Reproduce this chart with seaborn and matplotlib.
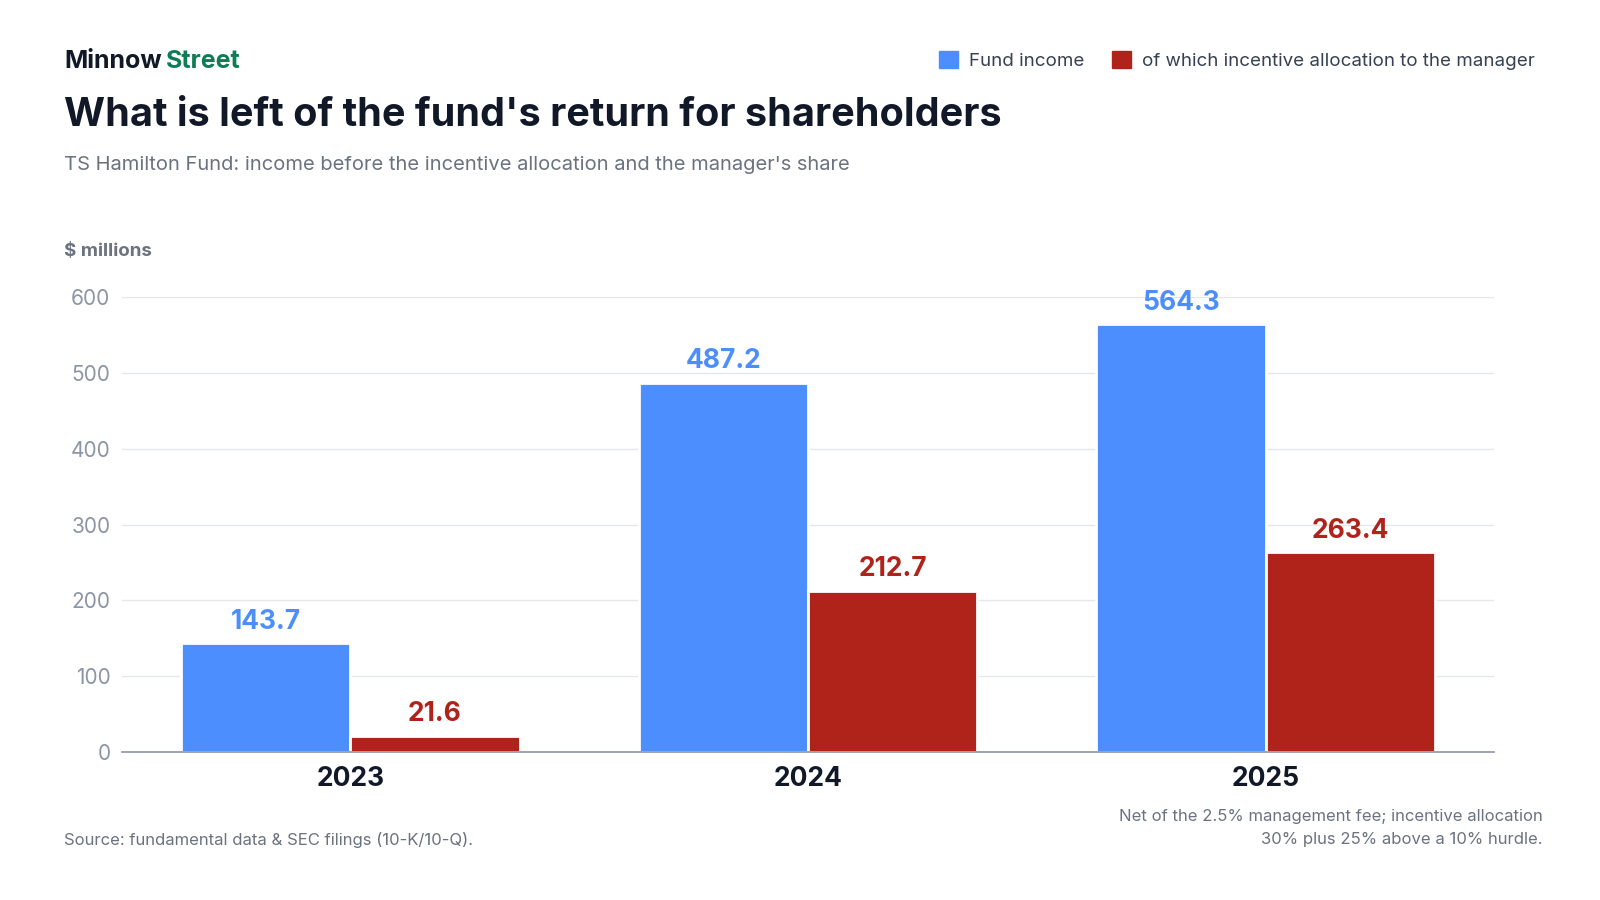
import matplotlib.pyplot as plt
import matplotlib.patches as mpatches
import seaborn as sns
import pandas as pd

years = ["2023", "2024", "2025"]
fund_income = [143.7, 487.2, 564.3]
incentive = [21.6, 212.7, 263.4]
series_names = ["Fund income", "of which incentive allocation to the manager"]

blue = "#4D8EFF"
red = "#B0231A"
dark = "#111827"
grey = "#6B7280"

df = pd.DataFrame({
    "year": years * 2,
    "value": fund_income + incentive,
    "series": [series_names[0]] * 3 + [series_names[1]] * 3,
})

sns.set_style("white")
plt.rcParams["font.family"] = ["Inter", "DejaVu Sans"]

fig = plt.figure(figsize=(16, 9), dpi=100)
ax = fig.add_axes([0.076, 0.1644, 0.858, 0.5056])

sns.barplot(data=df, x="year", y="value", hue="series", palette=[blue, red],
            saturation=1, width=0.74, edgecolor="white", linewidth=2, ax=ax, legend=False)

for cont, col in zip(ax.containers, [blue, red]):
    ax.bar_label(cont, labels=[f"{v:.1f}" for v in cont.datavalues], padding=6,
                 color=col, fontsize=19, fontweight="bold")

ax.set_ylim(0, 600)
ax.set_yticks(range(0, 601, 100))
ax.yaxis.grid(True, color="#E5E7EB", linewidth=1)
ax.set_axisbelow(True)
for s in ["top", "right", "left"]:
    ax.spines[s].set_visible(False)
ax.spines["bottom"].set_color("#8C95A6")
ax.spines["bottom"].set_linewidth(1.2)
ax.tick_params(axis="y", length=0, labelsize=15, labelcolor="#8C95A6", pad=8)
ax.tick_params(axis="x", length=0, labelsize=19, labelcolor=dark, pad=10)
for t in ax.get_xticklabels():
    t.set_fontweight("bold")
ax.set_xlabel("")
ax.set_ylabel("")

fig.text(0.04, 0.932, "Minnow", fontsize=18, fontweight="bold", color=dark, va="center")
fig.text(0.1035, 0.932, "Street", fontsize=18, fontweight="bold", color="#0E7C55", va="center")
fig.text(0.04, 0.872, "What is left of the fund's return for shareholders",
         fontsize=28.5, fontweight="bold", color=dark, va="center")
fig.text(0.04, 0.817, "TS Hamilton Fund: income before the incentive allocation and the manager's share",
         fontsize=14.5, color=grey, va="center")
fig.text(0.04, 0.72, "$ millions", fontsize=13.5, fontweight="bold", color=grey, va="center")

handles = [mpatches.Patch(color=blue, label=series_names[0]),
           mpatches.Patch(color=red, label=series_names[1])]
fig.legend(handles=handles, loc="center right", bbox_to_anchor=(0.97, 0.933), ncol=2,
           frameon=False, fontsize=13.5, handlelength=1, handleheight=1,
           columnspacing=1.5, handletextpad=0.6, labelcolor="#374151")

fig.text(0.04, 0.067, "Source: fundamental data & SEC filings (10-K/10-Q).",
         fontsize=12, color=grey, va="center")
fig.text(0.964, 0.093, "Net of the 2.5% management fee; incentive allocation",
         fontsize=12, color=grey, va="center", ha="right")
fig.text(0.964, 0.067, "30% plus 25% above a 10% hurdle.",
         fontsize=12, color=grey, va="center", ha="right")

fig.savefig("out.png", dpi=100)
